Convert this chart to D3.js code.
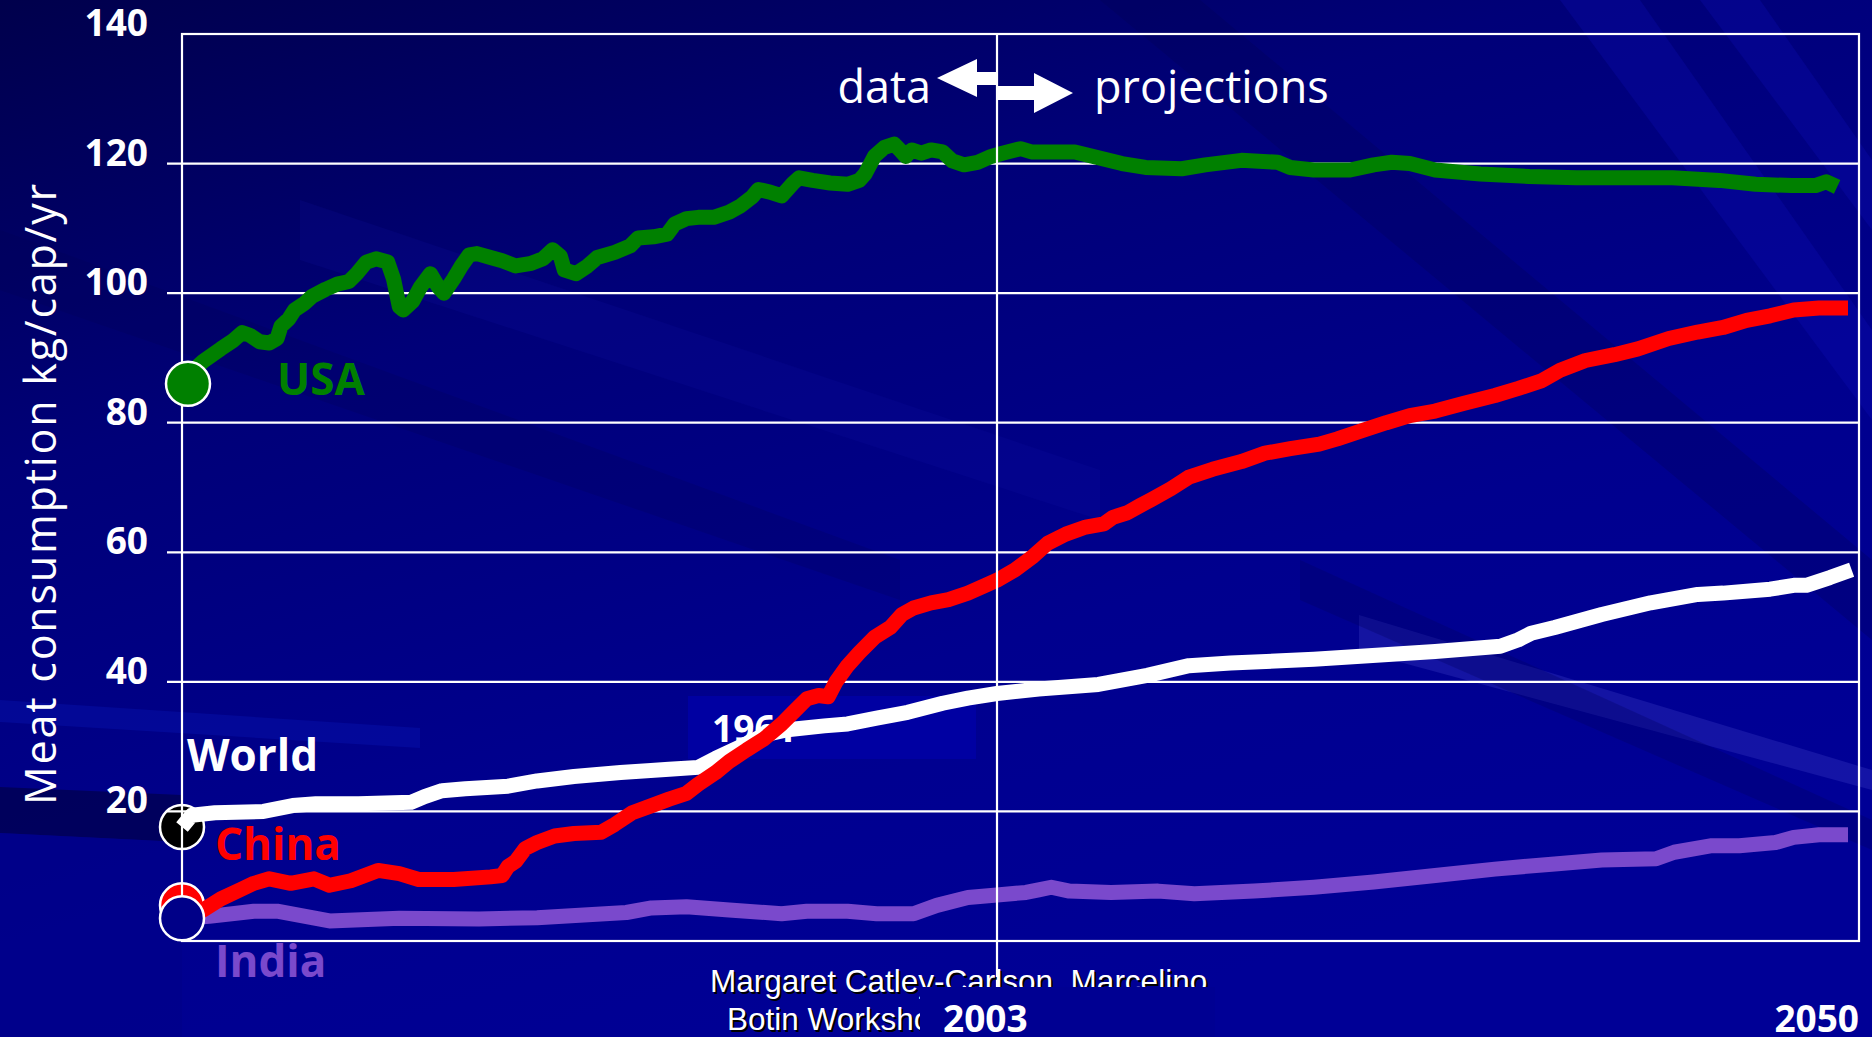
<!DOCTYPE html>
<html>
<head>
<meta charset="utf-8">
<script src="https://cdn.jsdelivr.net/npm/d3@7"></script>
<style>
html, body { margin: 0; padding: 0; background: #000080; overflow: hidden; }
svg { display: block; }
</style>
</head>
<body>
<div id="chart"></div>
<script>

// values, [year, kg per capita per year]
var usaSeries = [[1961,86.0],[1961.5,87.9],[1962.1,89.5],[1963.0,91.4],[1963.6,92.6],[1964.1,93.9],[1964.5,93.5],[1965.0,92.5],
    [1965.5,92.3],[1965.9,93.0],[1966.1,94.9],[1966.5,96.0],[1966.8,97.4],[1967.3,98.4],[1967.7,99.5],[1968.4,100.6],[1969.0,101.4],
    [1969.6,101.8],[1970.0,103.0],[1970.5,104.8],[1971.0,105.3],[1971.6,104.8],[1971.9,102.2],[1972.2,97.9],[1972.4,97.4],[1972.9,98.8],
    [1973.3,101.0],[1973.8,103.0],[1974.2,101.0],[1974.5,100.0],[1975.0,102.2],[1975.4,104.2],[1975.8,105.9],[1976.2,106.1],[1976.9,105.5],
    [1977.5,105.0],[1978.2,104.2],[1979.0,104.6],[1979.6,105.3],[1980.1,106.7],[1980.5,105.7],[1980.7,103.6],[1981.3,103.0],[1981.9,104.2],
    [1982.4,105.5],[1983.3,106.3],[1984.1,107.3],[1984.5,108.5],[1985.3,108.7],[1986.0,109.1],[1986.4,110.7],[1987.0,111.5],[1987.6,111.7],
    [1988.4,111.7],[1989.2,112.5],[1989.8,113.5],[1990.4,114.9],[1990.7,116.0],[1991.3,115.6],[1991.9,115.0],[1992.5,117.0],[1992.8,117.8],
    [1993.5,117.4],[1994.4,117.0],[1995.3,116.8],[1995.9,117.4],[1996.2,118.4],[1996.7,121.2],[1997.2,122.5],[1997.7,123.0],[1998.0,122.1],
    [1998.3,121.1],[1998.6,122.1],[1999.1,121.6],[1999.6,122.1],[2000.2,121.8],[2000.7,120.4],[2001.3,119.8],[2002.0,120.2],[2002.7,121.1],
    [2003.3,121.6],[2004.3,122.3],[2004.9,121.8],[2005.9,121.8],[2007.3,121.8],[2008.6,120.9],[2009.9,120.0],[2011.2,119.4],[2013.2,119.2],
    [2014.5,119.8],[2016.5,120.5],[2018.5,120.2],[2019.2,119.4],[2020.5,119.0],[2022.5,119.0],[2023.8,119.8],[2024.8,120.2],[2025.8,120.0],
    [2027.2,119.0],[2029.7,118.4],[2032.4,118.0],[2035.0,117.8],[2037.7,117.8],[2040.3,117.8],[2042.9,117.4],[2044.9,116.8],[2046.9,116.6],
    [2048.2,116.6],[2048.8,117.2],[2049.4,116.4]];

var chinaSeries = [[1961,5.5],[1962.1,4.8],[1963.0,6.5],[1964.0,7.9],[1964.7,8.9],[1965.5,9.6],[1966.6,8.9],[1967.8,9.6],[1968.6,8.6],
    [1969.7,9.3],[1971.1,10.9],[1972.2,10.4],[1973.2,9.5],[1975.0,9.5],[1976.9,9.9],[1977.5,10.1],[1977.8,11.5],[1978.2,12.3],[1978.7,14.3],
    [1979.3,15.2],[1980.2,16.2],[1981.2,16.6],[1982.6,16.8],[1983.3,18.0],[1984.2,19.8],[1985.2,20.9],[1986.1,21.9],[1987.0,22.8],[1987.6,24.2],
    [1988.5,26.0],[1989.2,27.7],[1990.1,29.5],[1991.0,31.2],[1991.9,33.5],[1992.6,35.6],[1993.2,37.4],[1993.8,37.9],[1994.3,37.7],[1994.7,40.0],
    [1995.3,42.5],[1995.9,44.5],[1996.7,46.9],[1997.5,48.4],[1998.1,50.4],[1998.7,51.4],[1999.6,52.2],[2000.5,52.7],[2001.5,53.7],[2002.4,54.9],
    [2003.0,55.7],[2004.0,57.3],[2005.0,59.4],[2005.8,61.4],[2006.8,62.8],[2007.9,63.9],[2008.9,64.4],[2009.4,65.4],[2010.2,66.1],[2010.9,67.2],
    [2011.5,68.1],[2012.6,69.8],[2013.6,71.6],[2014.9,72.8],[2016.5,74.0],[2017.8,75.3],[2019.2,76.0],[2020.8,76.7],[2021.8,77.5],[2023.2,78.8],
    [2024.5,80.0],[2025.8,81.1],[2027.2,81.8],[2028.8,83.0],[2030.5,84.2],[2031.8,85.3],[2033.1,86.5],[2034.1,88.1],[2035.5,89.6],[2037.1,90.5],
    [2038.4,91.4],[2040.1,93.0],[2041.7,94.0],[2043.1,94.7],[2044.4,95.8],[2045.7,96.5],[2047.0,97.4],[2048.4,97.7],[2050.0,97.7]];

var worldSeries = [[1961,17.6],[1961.5,19.4],[1962.7,19.8],[1965.2,20.0],[1966.7,20.9],[1967.9,21.2],[1970.1,21.2],[1972.8,21.4],[1973.5,22.3],
    [1974.4,23.2],[1975.6,23.5],[1977.8,23.9],[1979.3,24.7],[1981.2,25.4],[1983.6,26.0],[1986.1,26.5],[1987.6,26.8],[1988.5,28.2],[1989.8,30.0],
    [1991.0,31.8],[1992.2,32.6],[1994.1,33.2],[1995.3,33.5],[1996.8,34.4],[1998.4,35.3],[2000.2,36.7],[2001.5,37.5],[2003.0,38.2],[2005.3,38.9],
    [2008.6,39.6],[2011.3,41.0],[2013.6,42.5],[2015.9,42.9],[2020.5,43.5],[2027.2,44.7],[2030.8,45.5],[2031.8,46.5],[2032.5,47.5],[2033.8,48.4],
    [2036.4,50.4],[2039.1,52.2],[2041.7,53.5],[2043.1,53.7],[2045.7,54.3],[2047.0,54.9],[2047.7,54.9],[2049.0,56.1],[2050.2,57.3]];

var indiaSeries = [[1961,3.5],[1962.4,3.8],[1964.7,4.6],[1965.9,4.6],[1968.6,3.1],[1972.2,3.5],[1976.3,3.4],[1979.3,3.6],[1983.9,4.4],
    [1985.2,5.1],[1987.0,5.3],[1989.2,4.8],[1991.9,4.2],[1993.2,4.6],[1995.3,4.6],[1996.8,4.2],[1998.7,4.2],[1999.9,5.5],[2001.5,6.7],
    [2003.0,7.1],[2004.6,7.5],[2005.3,7.9],[2006.0,8.3],[2007.0,7.7],[2009.3,7.5],[2011.9,7.7],[2013.9,7.3],[2017.2,7.7],[2020.5,8.3],
    [2023.8,9.1],[2027.2,10.1],[2030.5,11.1],[2033.8,11.9],[2036.4,12.5],[2039.4,12.7],[2040.4,13.7],[2042.4,14.7],[2044.0,14.7],
    [2046.0,15.2],[2047.0,16.0],[2048.4,16.4],[2050.0,16.4]];

var yTicks = [20, 40, 60, 80, 100, 120, 140];
var xLabels = [2003, 2050];
var splitYear = 2003;          // last year of data, projections after

var seriesStyle = {
    USA:   {color: "#008000", marker: "#008000"},
    World: {color: "#ffffff", marker: "#000000"},
    China: {color: "#ff0000", marker: "#ff0000"},
    India: {color: "#7a49cc", marker: "#000088"}
};

var W = 1872, H = 1037;
var plotL = 182, plotR = 1859, plotT = 34, plotB = 941;
var font = "'Open Sans', 'DejaVu Sans', sans-serif";

var svg = d3.select("#chart").append("svg")
    .attr("width", W)
    .attr("height", H);

// background: dark navy with diagonal streaks
var defs = svg.append("defs");
var grad = defs.append("linearGradient").attr("id", "bg")
    .attr("x1", "0").attr("y1", "0").attr("x2", "0.55").attr("y2", "1");
grad.append("stop").attr("offset", "0").attr("stop-color", "#00004c");
grad.append("stop").attr("offset", "0.35").attr("stop-color", "#000078");
grad.append("stop").attr("offset", "0.7").attr("stop-color", "#00008e");
grad.append("stop").attr("offset", "1").attr("stop-color", "#000096");

svg.append("rect").attr("width", W).attr("height", H).attr("fill", "url(#bg)");

var streaks = [
    {pts: [[0,787],[182,795],[182,842],[0,833]], fill: "#00004a", op: 0.7},
    {pts: [[0,700],[420,728],[420,748],[0,722]], fill: "#0a18b8", op: 0.35},
    {pts: [[0,833],[182,842],[182,1037],[0,1037]], fill: "#000088", op: 0.6},
    {pts: [[1359,615],[1872,770],[1872,790],[1359,651]], fill: "#5a5ae0", op: 0.22},
    {pts: [[1560,0],[1640,0],[1872,330],[1872,420]], fill: "#1010c0", op: 0.25},
    {pts: [[1700,0],[1760,0],[1872,160],[1872,230]], fill: "#1010c0", op: 0.25},
    {pts: [[1100,0],[1200,0],[1872,560],[1872,640]], fill: "#000050", op: 0.25},
    {pts: [[300,200],[1100,470],[1100,520],[300,260]], fill: "#1414b0", op: 0.15},
    {pts: [[0,230],[900,560],[900,600],[0,290]], fill: "#000050", op: 0.2},
    {pts: [[1300,560],[1872,820],[1872,850],[1300,600]], fill: "#000060", op: 0.3}
];
svg.append("g").selectAll("polygon")
    .data(streaks)
    .enter().append("polygon")
    .attr("points", function (d) { return d.pts.map(function (p) { return p.join(","); }).join(" "); })
    .attr("fill", function (d) { return d.fill; })
    .attr("opacity", function (d) { return d.op; });

// scales: the slide squeezes the projection years a bit, so x has a knot at 2003
var x = d3.scaleLinear()
    .domain([1961, splitYear, 2050])
    .range([plotL, 997, 1848]);
var y = d3.scaleLinear()
    .domain([0, 140])
    .range([plotB, plotT]);

// box behind the stray "1961" label
svg.append("rect")
    .attr("x", 688).attr("y", 696).attr("width", 288).attr("height", 63)
    .attr("fill", "#0000a2");
svg.append("text")
    .attr("x", 712).attr("y", 742)
    .attr("font-family", font).attr("font-weight", "bold").attr("font-size", 37)
    .attr("fill", "#fff")
    .text("1961");

// start markers that sit under the frame
var under = [["World", worldSeries], ["China", chinaSeries]];
svg.append("g").selectAll("circle")
    .data(under)
    .enter().append("circle")
    .attr("cx", function (d) { return x(d[1][0][0]); })
    .attr("cy", function (d) { return y(d[1][0][1]); })
    .attr("r", 22)
    .attr("fill", function (d) { return seriesStyle[d[0]].marker; })
    .attr("stroke", "#fff")
    .attr("stroke-width", 2.5);

// grid lines with little stubs left of the frame
var grid = svg.append("g").attr("stroke", "#fff").attr("stroke-width", 2.2);
grid.selectAll("line.h")
    .data(yTicks.filter(function (v) { return v < 140; }))
    .enter().append("line")
    .attr("class", "h")
    .attr("x1", plotL - 15).attr("x2", plotR)
    .attr("y1", function (d) { return y(d); })
    .attr("y2", function (d) { return y(d); });

grid.append("rect")
    .attr("x", plotL).attr("y", plotT)
    .attr("width", plotR - plotL).attr("height", plotB - plotT)
    .attr("fill", "none");

svg.append("g").selectAll("text")
    .data(yTicks)
    .enter().append("text")
    .attr("x", 148)
    .attr("y", function (d) { return y(d) + 2; })
    .attr("text-anchor", "end")
    .attr("font-family", font).attr("font-weight", "bold").attr("font-size", 37)
    .attr("fill", "#fff")
    .text(function (d) { return d; });

// the four series
var lineGen = d3.line()
    .x(function (d) { return x(d[0]); })
    .y(function (d) { return y(d[1]); });

var allSeries = [["India", indiaSeries], ["World", worldSeries], ["China", chinaSeries], ["USA", usaSeries]];
svg.append("g").selectAll("path")
    .data(allSeries)
    .enter().append("path")
    .attr("d", function (d) { return lineGen(d[1]); })
    .attr("fill", "none")
    .attr("stroke", function (d) { return seriesStyle[d[0]].color; })
    .attr("stroke-width", 15)
    .attr("stroke-linejoin", "round")
    .attr("stroke-linecap", "butt");

// markers drawn over the lines
var over = [["USA", usaSeries], ["India", indiaSeries]];
svg.append("g").selectAll("circle")
    .data(over)
    .enter().append("circle")
    .attr("cx", function (d) { return x(d[1][0][0]) + (d[0] === "USA" ? 6 : 0); })
    .attr("cy", function (d) { return y(d[1][0][1]); })
    .attr("r", 22)
    .attr("fill", function (d) { return seriesStyle[d[0]].marker; })
    .attr("stroke", "#fff")
    .attr("stroke-width", 2.5);

// data | projections divider
var xs = x(splitYear);
svg.append("line")
    .attr("x1", xs).attr("x2", xs)
    .attr("y1", plotT).attr("y2", 987)
    .attr("stroke", "#fff").attr("stroke-width", 2.2);

var arrowL = [[xs, 72], [xs - 20, 72], [xs - 20, 59], [xs - 60, 78], [xs - 20, 97], [xs - 20, 85], [xs, 85]];
var arrowR = [[xs, 86], [xs + 37, 86], [xs + 37, 73], [xs + 76, 93], [xs + 37, 113], [xs + 37, 100], [xs, 100]];
svg.append("g").selectAll("polygon")
    .data([arrowL, arrowR])
    .enter().append("polygon")
    .attr("points", function (d) { return d.map(function (p) { return p.join(","); }).join(" "); })
    .attr("fill", "#fff");

svg.append("text")
    .attr("x", xs - 66).attr("y", 103)
    .attr("text-anchor", "end")
    .attr("font-family", font).attr("font-size", 45).attr("fill", "#fff")
    .text("data");
svg.append("text")
    .attr("x", xs + 97).attr("y", 103)
    .attr("font-family", font).attr("font-size", 45).attr("fill", "#fff")
    .text("projections");

// series names
var names = [
    {name: "USA", x: 277, y: 395},
    {name: "World", x: 187, y: 771},
    {name: "China", x: 215, y: 860},
    {name: "India", x: 215, y: 977}
];
svg.append("g").selectAll("text")
    .data(names)
    .enter().append("text")
    .attr("x", function (d) { return d.x; })
    .attr("y", function (d) { return d.y; })
    .attr("font-family", font).attr("font-weight", "bold").attr("font-size", 44)
    .attr("fill", function (d) { return seriesStyle[d.name].color; })
    .text(function (d) { return d.name; });

// y axis title
svg.append("text")
    .attr("transform", "translate(56," + ((plotT + plotB) / 2 + 6) + ") rotate(-90)")
    .attr("text-anchor", "middle")
    .attr("font-family", font).attr("font-size", 43)
    .attr("letter-spacing", 1.8)
    .attr("fill", "#fff")
    .text("Meat consumption kg/cap/yr");

// credit line, partly hidden behind the 2003 label box
var credit = svg.append("g").attr("font-family", "'Liberation Sans', Arial, sans-serif").attr("font-size", 31.5);
[["#000000", 2], ["#ffffff", 0]].forEach(function (c) {
    credit.append("text").attr("x", 710 + c[1]).attr("y", 992 + c[1]).attr("fill", c[0])
        .text("Margaret Catley-Carlson, Marcelino");
    credit.append("text").attr("x", 727 + c[1]).attr("y", 1030 + c[1]).attr("fill", c[0])
        .text("Botin Workshop");
});
svg.append("rect")
    .attr("x", 920).attr("y", 987).attr("width", 295).attr("height", 50)
    .attr("fill", "#000092");

svg.append("g").selectAll("text")
    .data(xLabels)
    .enter().append("text")
    .attr("x", function (d) { return d === 2050 ? plotR : 943; })
    .attr("y", 1032)
    .attr("text-anchor", function (d) { return d === 2050 ? "end" : "start"; })
    .attr("font-family", font).attr("font-weight", "bold").attr("font-size", 37)
    .attr("fill", "#fff")
    .text(function (d) { return d; });

</script>
</body>
</html>
